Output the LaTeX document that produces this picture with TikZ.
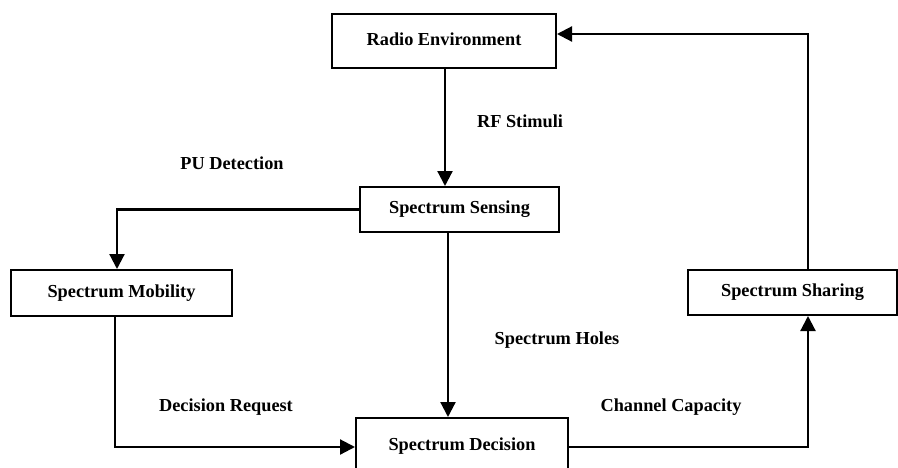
\documentclass[tikz,border=0pt]{standalone}
\usepackage{fontspec}
\setmainfont{Liberation Serif}
\usetikzlibrary{arrows.meta,calc}
\begin{document}
\begin{tikzpicture}[x=1pt,y=-1pt,
  box/.style={draw, line width=2pt, inner sep=0pt, font=\fontsize{18.3}{22}\selectfont\bfseries},
  lbl/.style={inner sep=0pt, font=\fontsize{18.3}{22}\selectfont\bfseries},
  conn/.style={line width=2.2pt, -{Triangle[length=15pt,width=15pt]}}]
\clip (0,0) rectangle (898,467);
% boxes
\node[box, minimum width=224pt, minimum height=54pt] (env) at (444,41) {\raisebox{4pt}{Radio Environment}};
\node[box, minimum width=199pt, minimum height=45pt] (sensing) at (459.5,209.5) {Spectrum Sensing};
\node[box, minimum width=221pt, minimum height=46pt] (mobility) at (121.5,293) {Spectrum Mobility};
\node[box, minimum width=209pt, minimum height=45pt] (sharing) at (792.5,292.5) {Spectrum Sharing};
\node[box, minimum width=212pt, minimum height=58pt] (decision) at (462,447) {\raisebox{6pt}{Spectrum Decision}};
% helper coordinates
\coordinate (sx) at (448,0);
\coordinate (mx) at (115,0);
\coordinate (ax) at (117,0);
\coordinate (rx) at (808,0);
\coordinate (ty) at (0,34);
\coordinate (ex) at (445,0);
% connectors
\draw[conn] (env.south -| ex) -- (sensing.north -| ex);
\draw[conn] (sensing.west) -| (ax |- mobility.north);
\draw[conn] (sensing.south -| sx) -- (decision.north -| sx);
\draw[conn] (mobility.south -| mx) |- (decision.west);
\draw[conn] (decision.east) -| (rx |- sharing.south);
\draw[conn] (rx |- sharing.north) |- (env.east |- ty);
% labels
\node[lbl] (l1) at (520,121) {RF Stimuli};
\node[lbl] (l2) at (232,163) {PU Detection};
\node[lbl] (l3) at (557,340) {Spectrum Holes};
\node[lbl] (l4) at (226,407) {Decision Request};
\node[lbl] (l5) at (671,407) {Channel Capacity};
\end{tikzpicture}
\end{document}
